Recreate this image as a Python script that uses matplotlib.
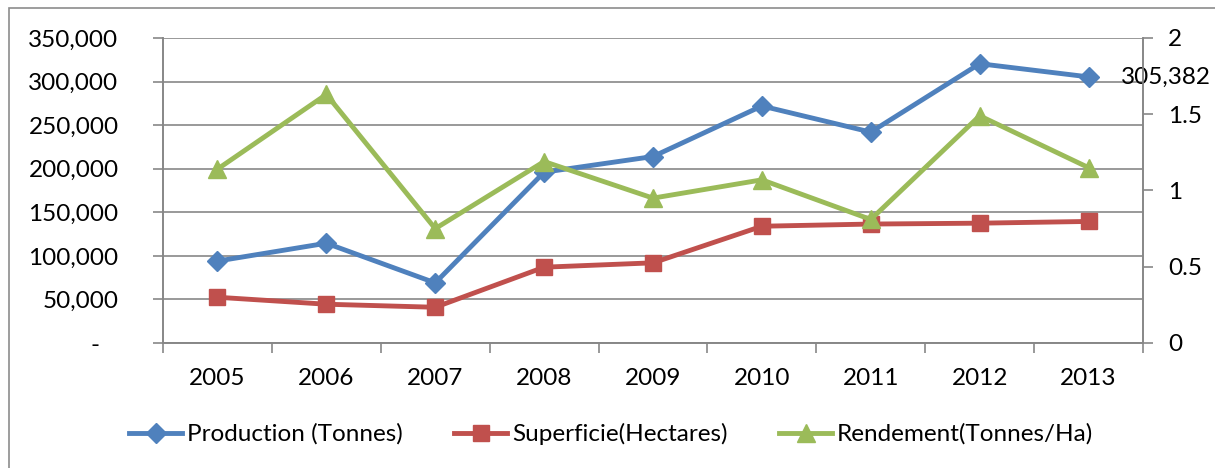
import matplotlib

matplotlib.use("Agg")
import matplotlib.pyplot as plt
from matplotlib.patches import Rectangle
from matplotlib.ticker import FuncFormatter

years = ["2005", "2006", "2007", "2008", "2009", "2010", "2011", "2012", "2013"]
production = [94000, 114500, 69000, 196000, 214000, 272000, 242000, 320500, 305382]
superficie = [52500, 44500, 41000, 87000, 92000, 134000, 136500, 137500, 139500]
rendement = [1.14, 1.63, 0.75, 1.19, 0.95, 1.07, 0.81, 1.49, 1.15]

BLUE = "#4F81BD"
RED = "#C0504D"
GREEN = "#9BBB59"
GRID = "#878787"
FS = 17.5

plt.rcParams["font.family"] = ["Lato", "DejaVu Sans"]

fig = plt.figure(figsize=(12.15, 4.68), dpi=100)
ax = fig.add_axes([163 / 1215, 1 - 343 / 468, 980 / 1215, 305 / 468])
ax2 = ax.twinx()

# outer chart frame (only left/top edges visible in the crop)
fig.patches.append(Rectangle((9 / 1215, -0.1), 1.2, 1 - 8 / 468 + 0.1, transform=fig.transFigure,
                             fill=False, edgecolor="#8c8c8c", linewidth=1.2, zorder=0))

x = list(range(len(years)))
ax.plot(x, production, color=BLUE, lw=3.5, marker="D", ms=10, label="Production (Tonnes)", zorder=3)
ax.plot(x, superficie, color=RED, lw=3.5, marker="s", ms=11, label="Superficie(Hectares)", zorder=3)
ax2.plot(x, rendement, color=GREEN, lw=3.5, marker="^", ms=13, label="Rendement(Tonnes/Ha)", zorder=3)

ax.annotate(f"{production[-1]:,}", (x[-1], production[-1]), xytext=(23, 0), textcoords="offset points",
            fontsize=FS, va="center", ha="left", annotation_clip=False)

ax.set_xlim(-0.5, len(years) - 0.5)
ax.set_ylim(0, 350000)
ax2.set_ylim(0, 2)
ax.set_yticks(range(0, 350001, 50000))
ax2.set_yticks([0, 0.5, 1, 1.5, 2])
ax2.set_yticklabels(["0", "0.5", "1", "1.5", "2"])
# Excel-style accounting format: zero shown as a dash
ax.yaxis.set_major_formatter(FuncFormatter(lambda v, p: "-   " if v == 0 else f"{int(v):,}"))

ax.set_xticks(x)
ax.set_xticklabels(years)
ax.set_xticks([i + 0.5 for i in range(-1, len(years))], minor=True)
ax.tick_params(axis="x", which="major", length=0, pad=18, labelsize=FS)
ax.tick_params(axis="x", which="minor", length=7, color=GRID, width=1.2)
ax.tick_params(axis="y", length=7, color=GRID, width=1.2, labelsize=FS, pad=25)
ax2.tick_params(axis="y", length=7, color=GRID, width=1.2, labelsize=FS, pad=11)

ax.grid(axis="y", color=GRID, lw=1.2)
ax.set_axisbelow(True)
for a in (ax, ax2):
    a.spines["top"].set_visible(False)
    for s in ("left", "right", "bottom"):
        a.spines[s].set_color(GRID)
        a.spines[s].set_linewidth(1.2)

h1, l1 = ax.get_legend_handles_labels()
h2, l2 = ax2.get_legend_handles_labels()
fig.legend(h1 + h2, l1 + l2, loc="center", bbox_to_anchor=(0.503, 1 - 434 / 468), ncol=3,
           frameon=False, fontsize=FS, handlelength=2.2, handletextpad=0.2, columnspacing=2.1)

fig.savefig("out.png", dpi=100)
